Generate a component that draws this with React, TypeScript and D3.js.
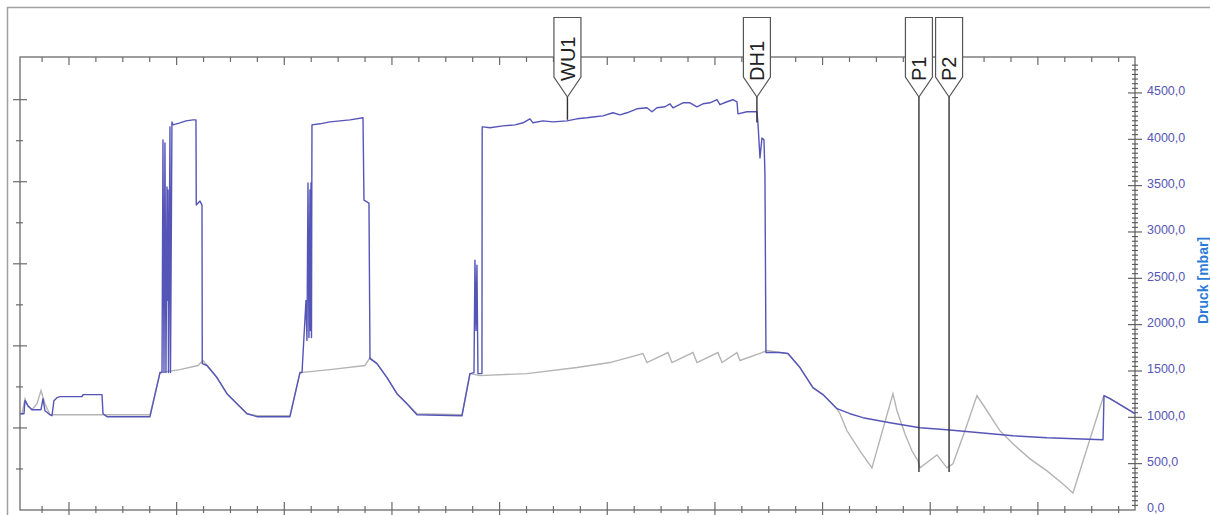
import React, { useRef, useEffect } from "react";
import * as d3 from "d3";

// time in minutes, pressure in mbar
const blueTime = [
  10.9, 11.64, 11.83, 12.38, 13.13, 14.8, 15.17, 15.54, 16.47, 16.84, 17.21, 17.77, 18.33, 22.42, 22.6, 26.13, 26.32, 27.06, 35.05,
  36.91, 37.28, 37.46, 37.65, 37.83, 38.02, 38.21, 38.3, 38.39, 38.49, 38.76, 38.86, 39.13, 39.32, 40.62, 41.74, 43.04, 43.59,
  43.65, 43.96, 44.34, 44.71, 44.76, 45.64, 47.49, 49.35, 51.21, 53.07, 54.92, 61.05,
  62.91, 63.29, 64.03, 64.21, 64.4, 64.58, 64.77, 64.86, 64.96, 65.05, 65.14, 66.63, 68.49, 70.35, 72.2, 74.62, 74.8, 75.73,
  75.92, 77.22, 79.08, 80.93, 82.79, 84.64, 93.01,
  94.49, 95.24, 95.42, 95.61, 95.79, 95.98, 96.72, 96.76, 96.91, 98.21, 100.62, 102.85, 104.34, 105.64, 106.2, 108.05, 109.91,
  112.51, 114.37, 116.23, 117.72, 119.2, 121.06, 122.36, 123.66, 125.52, 127.37, 128.3, 129.23, 130.72, 131.65, 132.2, 134.06,
  135.36, 136.66, 137.78, 139.08, 140.38, 140.93, 142.24, 143.35, 144.1, 144.28, 145.95, 147.81, 147.99, 148.37, 148.74, 149.11,
  149.29, 149.48, 152.08, 153.57, 155.8, 158.21, 160.07, 162.67, 165.09, 167.5, 172.52, 178.09, 183.11, 189.24, 195.37, 201.69,
  212.1, 212.28, 213.4, 218.04,
];
const bluePressure = [
  1039, 1039, 1180, 1126, 1082, 1082, 1201, 1071, 1028, 1017, 1180, 1212, 1223, 1223, 1245, 1245, 1039, 1007, 1007,
  1483, 1483, 3994, 1483, 3961, 1483, 3485, 2262, 3453, 1483, 4134, 1483, 4188, 4156, 4178, 4199, 4210, 4210,
  3290, 3312, 3333, 3290, 1580, 1559, 1429, 1255, 1147, 1039, 1007, 1007,
  1483, 1483, 2262, 1829, 3528, 1862, 3453, 1937, 3528, 1862, 4156, 4167, 4188, 4199, 4210, 4232, 3344, 3312,
  1634, 1580, 1429, 1255, 1147, 1028, 1017,
  1472, 1483, 2695, 1937, 2641, 1472, 1472, 4134, 4134, 4124, 4145, 4156, 4178, 4221, 4178, 4199, 4188,
  4199, 4221, 4232, 4243, 4253, 4286, 4264, 4286, 4329, 4340, 4297, 4340, 4351, 4383, 4340, 4394,
  4394, 4351, 4383, 4394, 4427, 4373, 4405, 4427, 4405, 4275, 4297, 4297, 4178, 3799, 4015, 3994,
  3637, 1699, 1699, 1688, 1537, 1320, 1245, 1093, 1039, 996, 942, 887, 866, 833, 801, 779,
  758, 1234, 1201, 1039,
];
const grayTime = [
  10.9, 11.27, 11.83, 12.38, 13.13, 14.06, 14.8, 15.54, 16.47, 16.84, 35.05,
  36.91, 40.62, 43.96, 44.89, 45.64, 47.49, 49.35, 51.21, 53.07, 54.92, 61.05,
  62.91, 68.49, 74.99, 75.92, 77.22, 79.08, 80.93, 82.79, 84.64, 93.01,
  94.49, 96.35, 105.08, 114.37, 120.5, 126.63, 127.37, 131.28, 132.02, 135.92, 136.66, 140.56, 141.31, 144.1, 144.65, 148.74,
  149.67, 152.08, 153.57, 155.8, 158.21, 160.07, 162.67, 163.23, 164.53, 166.94, 169.17, 173.07, 173.82, 175.3, 176.6, 177.72,
  178.09, 181.25, 183.11, 184.22, 186.45, 188.68, 190.54, 192.95, 195.37, 198.53, 201.69, 204.66, 206.52, 212.1, 212.28,
  213.4, 218.04,
];
const grayPressure = [
  1039, 1039, 1201, 1115, 1082, 1147, 1288, 1147, 1028, 1028, 1028,
  1483, 1515, 1559, 1613, 1559, 1429, 1255, 1147, 1039, 1017, 1017,
  1483, 1515, 1559, 1645, 1580, 1429, 1255, 1147, 1039, 1028,
  1472, 1450, 1472, 1537, 1591, 1688, 1591, 1699, 1591, 1699, 1591, 1699, 1591, 1699, 1613, 1699,
  1721, 1699, 1688, 1537, 1320, 1245, 1093, 1039, 855, 639, 455, 1255, 1071, 823, 639, 530,
  455, 595, 455, 498, 855, 1234, 1071, 855, 714, 552, 422, 281, 184, 1212, 1234,
  1201, 1039,
];

const markerLabels = ["WU1", "DH1", "P1", "P2"];
const markerTime = [112.6, 147.8, 177.9, 183.5];
const markerPressure = [4210, 4180, 411, 411];

const pressureTicks = [0, 500, 1000, 1500, 2000, 2500, 3000, 3500, 4000, 4500];
const pressureTitle = "Druck [mbar]";

const W = 1210;
const H = 515;
const left = 20;
const right = 1135;
const top = 57;
const bottom = 510;

const App = () => {
  const svgRef = useRef<SVGSVGElement>(null);

  useEffect(() => {
    const svg = d3.select(svgRef.current);
    svg.selectAll("*").remove();

    const x = d3.scaleLinear().domain([10.9, 218.04]).range([left, right]);
    const y = d3.scaleLinear().domain([0, 4888]).range([bottom, top]);
    const yLeft = d3.scaleLinear().domain([0, 110.4]).range([bottom, top]);

    // outer frame
    svg
      .append("rect")
      .attr("x", 7.5)
      .attr("y", 7.5)
      .attr("width", W)
      .attr("height", H)
      .attr("fill", "none")
      .attr("stroke", "#a0a0a0")
      .attr("stroke-width", 1.5);

    const axisColor = "#6a6a6a";
    const g = svg.append("g");

    // plot frame
    g.append("rect")
      .attr("x", left)
      .attr("y", top)
      .attr("width", right - left)
      .attr("height", bottom - top)
      .attr("fill", "none")
      .attr("stroke", axisColor)
      .attr("stroke-width", 1.3);

    // time ticks, top and bottom
    const tTicks = d3.range(15, 216, 5);
    g.selectAll(".tb")
      .data(tTicks)
      .join("line")
      .attr("x1", (d) => x(d))
      .attr("x2", (d) => x(d))
      .attr("y1", (d) => (d % 20 === 0 ? bottom - 8 : bottom - 4))
      .attr("y2", (d) => (d % 20 === 0 ? bottom + 6 : bottom + 3))
      .attr("stroke", axisColor)
      .attr("stroke-width", 1.2);
    g.selectAll(".tt")
      .data(tTicks)
      .join("line")
      .attr("x1", (d) => x(d))
      .attr("x2", (d) => x(d))
      .attr("y1", top)
      .attr("y2", (d) => (d % 20 === 0 ? top + 8 : top + 5))
      .attr("stroke", axisColor)
      .attr("stroke-width", 1.2);

    // left axis ticks (no labels)
    g.selectAll(".lt")
      .data(d3.range(10, 110, 10))
      .join("line")
      .attr("x1", (d) => (d % 20 === 0 ? left - 7 : left - 4))
      .attr("x2", (d) => (d % 20 === 0 ? left + 7 : left + 3))
      .attr("y1", (d) => yLeft(d))
      .attr("y2", (d) => yLeft(d))
      .attr("stroke", axisColor)
      .attr("stroke-width", 1.2);

    // right axis ticks
    g.selectAll(".rt")
      .data(d3.range(50, 4850, 50))
      .join("line")
      .attr("x1", (d) => (d % 500 === 0 ? right - 7 : right - 3))
      .attr("x2", (d) => (d % 500 === 0 ? right + 7 : right + 3))
      .attr("y1", (d) => y(d))
      .attr("y2", (d) => y(d))
      .attr("stroke", "#555")
      .attr("stroke-width", 1.1);

    g.selectAll(".rl")
      .data(pressureTicks)
      .join("text")
      .attr("x", right + 12)
      .attr("y", (d) => y(d) - 2)
      .attr("dy", "0.35em")
      .attr("font-family", "Liberation Sans, Arial, sans-serif")
      .attr("font-size", 12.5)
      .attr("fill", "#5656b4")
      .text((d) => d.toFixed(1).replace(".", ","));

    svg
      .append("text")
      .attr("transform", `translate(1208,${(top + bottom) / 2 - 3}) rotate(-90)`)
      .attr("text-anchor", "middle")
      .attr("font-family", "Liberation Sans, Arial, sans-serif")
      .attr("font-size", 14)
      .attr("font-weight", "bold")
      .attr("fill", "#2a7ad6")
      .text(pressureTitle);

    const blueLine = d3
      .line<number>()
      .x((d, i) => x(blueTime[i]))
      .y((d) => y(d));
    const grayLine = d3
      .line<number>()
      .x((d, i) => x(grayTime[i]))
      .y((d) => y(d));

    svg
      .append("path")
      .attr("d", grayLine(grayPressure))
      .attr("fill", "none")
      .attr("stroke", "#b4b4b4")
      .attr("stroke-width", 1.4);
    svg
      .append("path")
      .attr("d", blueLine(bluePressure))
      .attr("fill", "none")
      .attr("stroke", "#5555b8")
      .attr("stroke-width", 1.4)
      .attr("stroke-linejoin", "round");

    // event markers
    const tipY = 97;
    const m = svg
      .selectAll(".marker")
      .data(markerLabels)
      .join("g")
      .attr("transform", (d, i) => `translate(${x(markerTime[i])},0)`);
    m.append("line")
      .attr("x1", 0)
      .attr("x2", 0)
      .attr("y1", tipY)
      .attr("y2", (d, i) => y(markerPressure[i]))
      .attr("stroke", "#333")
      .attr("stroke-width", 1.4);
    m.append("path")
      .attr("d", `M-13.5,17.5H13.5V77L0,${tipY}L-13.5,77Z`)
      .attr("fill", "#fff")
      .attr("stroke", "#555")
      .attr("stroke-width", 1.2);
    m.append("text")
      .attr("transform", "translate(0,81) rotate(-90)")
      .attr("dy", "0.36em")
      .attr("font-family", "Liberation Sans, Arial, sans-serif")
      .attr("font-size", 20)
      .attr("fill", "#222")
      .text((d) => d);
  }, []);

  return (
    <svg
      ref={svgRef}
      width={W}
      height={H}
      style={{ position: "absolute", left: 0, top: 0, background: "#fff" }}
    />
  );
};

export default App;
